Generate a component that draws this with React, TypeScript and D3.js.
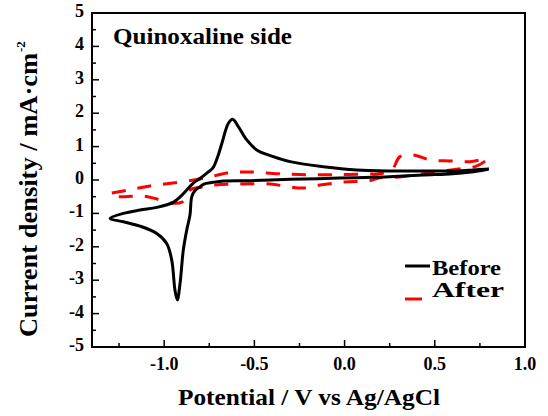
import React from "react";
import * as d3 from "d3";

const beforeV = [0.80, 0.714, 0.60, 0.437, 0.25, 0.067, -0.15, -0.302, -0.524, -0.672, -0.73, -0.78, -0.80, -0.83, -0.847, -0.857, -0.875, -0.894, -0.912, -0.927, -0.94, -0.958, -0.986, -1.041, -1.134, -1.226, -1.30,
  -1.226, -1.134, -1.041, -0.95, -0.91, -0.875, -0.84, -0.80, -0.76, -0.73, -0.70, -0.68, -0.644, -0.62, -0.589, -0.542, -0.487, -0.395, -0.302, -0.118, 0.067, 0.252, 0.437, 0.622, 0.714, 0.80];
const beforeJ = [0.33, 0.25, 0.19, 0.15, 0.10, 0.07, 0.04, 0.02, -0.02, -0.03, -0.07, -0.12, -0.2, -0.32, -0.5, -1.05, -1.5, -2.1, -3.1, -3.59, -3.3, -2.4, -1.9, -1.6, -1.38, -1.25, -1.15,
  -1.0, -0.9, -0.82, -0.67, -0.5, -0.3, -0.1, 0.05, 0.22, 0.36, 0.75, 1.1, 1.7, 1.82, 1.6, 1.2, 0.9, 0.70, 0.55, 0.40, 0.30, 0.27, 0.27, 0.27, 0.30, 0.33];

const afterV = [-1.29, -1.20, -1.078, -0.912, -0.768, -0.652, -0.524, -0.37, -0.21, -0.036, 0.13, 0.18, 0.261, 0.307, 0.38, 0.474, 0.585, 0.695, 0.79,
  0.734, 0.65, 0.546, 0.43, 0.302, 0.196, 0.14, 0.0, -0.136, -0.23, -0.30, -0.413, -0.58, -0.718, -0.79, -0.857, -0.90, -0.968, -1.04, -1.117, -1.217, -1.29];
const afterJ = [-0.39, -0.30, -0.18, -0.06, 0.06, 0.21, 0.24, 0.19, 0.16, 0.16, 0.18, 0.18, 0.30, 0.70, 0.75, 0.60, 0.57, 0.55, 0.63,
  0.42, 0.34, 0.27, 0.18, 0.09, 0.07, -0.02, -0.06, -0.15, -0.24, -0.21, -0.12, -0.12, -0.15, -0.21, -0.30, -0.66, -0.69, -0.57, -0.48, -0.50, -0.50];

const xMajor = [-1.0, -0.5, 0.0, 0.5, 1.0];
const xMinor = [-1.25, -0.75, -0.25, 0.25, 0.75];
const xLabels = ["-1.0", "-0.5", "0.0", "0.5", "1.0"];
const yMajor = [5, 4, 3, 2, 1, 0, -1, -2, -3, -4, -5];
const yMinor = [4.5, 3.5, 2.5, 1.5, 0.5, -0.5, -1.5, -2.5, -3.5, -4.5];
const yLabels = ["5", "4", "3", "2", "1", "0", "-1", "-2", "-3", "-4", "-5"];
const seriesNames = ["Before", "After"];

const L = 92, R = 525, T = 13, B = 347;
const FONT = "'Times New Roman', 'Liberation Serif', serif";

export default function App() {
  const x = d3.scaleLinear().domain([-1.4, 1.0]).range([L, R]);
  const y = d3.scaleLinear().domain([-5, 5]).range([B, T]);
  const line = d3.line<[number, number]>()
    .x(d => x(d[0])).y(d => y(d[1]))
    .curve(d3.curveCatmullRom.alpha(0.5));
  const before = beforeV.map((v, i) => [v, beforeJ[i]] as [number, number]);
  const after = afterV.map((v, i) => [v, afterJ[i]] as [number, number]);

  return (
    <svg width={548} height={416} style={{ position: "absolute", left: 0, top: 0, background: "#fff" }}>
      <rect x={0} y={0} width={548} height={416} fill="#fff" />
      {xMajor.map((v, i) => (
        <line key={"xM" + i} x1={x(v)} x2={x(v)} y1={B} y2={B - 7} stroke="#000" strokeWidth={1.5} />
      ))}
      {xMinor.map((v, i) => (
        <line key={"xm" + i} x1={x(v)} x2={x(v)} y1={B} y2={B - 4} stroke="#000" strokeWidth={1.5} />
      ))}
      {yMajor.map((v, i) => (
        <line key={"yM" + i} x1={L} x2={L + 7} y1={y(v)} y2={y(v)} stroke="#000" strokeWidth={1.5} />
      ))}
      {yMinor.map((v, i) => (
        <line key={"ym" + i} x1={L} x2={L + 4} y1={y(v)} y2={y(v)} stroke="#000" strokeWidth={1.5} />
      ))}
      <path d={line(after) || ""} fill="none" stroke="#ff0000" strokeWidth={3} strokeDasharray="14,12" />
      <path d={line(before) || ""} fill="none" stroke="#000" strokeWidth={3} strokeLinejoin="round" />
      <rect x={L} y={T} width={R - L} height={B - T} fill="none" stroke="#000" strokeWidth={2} />
      {xMajor.map((v, i) => (
        <text key={"xl" + i} x={x(v)} y={370} textAnchor="middle" fontFamily={FONT} fontWeight="bold" fontSize={18}>{xLabels[i]}</text>
      ))}
      {yMajor.map((v, i) => (
        <text key={"yl" + i} x={84} y={y(v) + 4} textAnchor="end" fontFamily={FONT} fontWeight="bold" fontSize={18}>{yLabels[i]}</text>
      ))}
      <text x={113} y={44} fontFamily={FONT} fontWeight="bold" fontSize={24} textLength={179} lengthAdjust="spacingAndGlyphs">Quinoxaline side</text>
      <text x={309} y={405} textAnchor="middle" fontFamily={FONT} fontWeight="bold" fontSize={24} textLength={262} lengthAdjust="spacingAndGlyphs">Potential / V vs Ag/AgCl</text>
      <text transform="translate(37,337) rotate(-90)" x={0} y={0} fontFamily={FONT} fontWeight="bold" fontSize={25} textLength={284} lengthAdjust="spacingAndGlyphs">Current  density / mA·cm</text>
      <text transform="translate(25,52) rotate(-90)" x={0} y={0} fontFamily={FONT} fontWeight="bold" fontSize={13}>-2</text>
      <line x1={405} x2={430} y1={266} y2={266} stroke="#000" strokeWidth={3} />
      <text x={432} y={275} fontFamily={FONT} fontWeight="bold" fontSize={21} textLength={69} lengthAdjust="spacingAndGlyphs">{seriesNames[0]}</text>
      <line x1={405} x2={422} y1={299} y2={299} stroke="#ff0000" strokeWidth={3} />
      <text x={432} y={297} fontFamily={FONT} fontWeight="bold" fontSize={21} textLength={72} lengthAdjust="spacingAndGlyphs">{seriesNames[1]}</text>
    </svg>
  );
}
